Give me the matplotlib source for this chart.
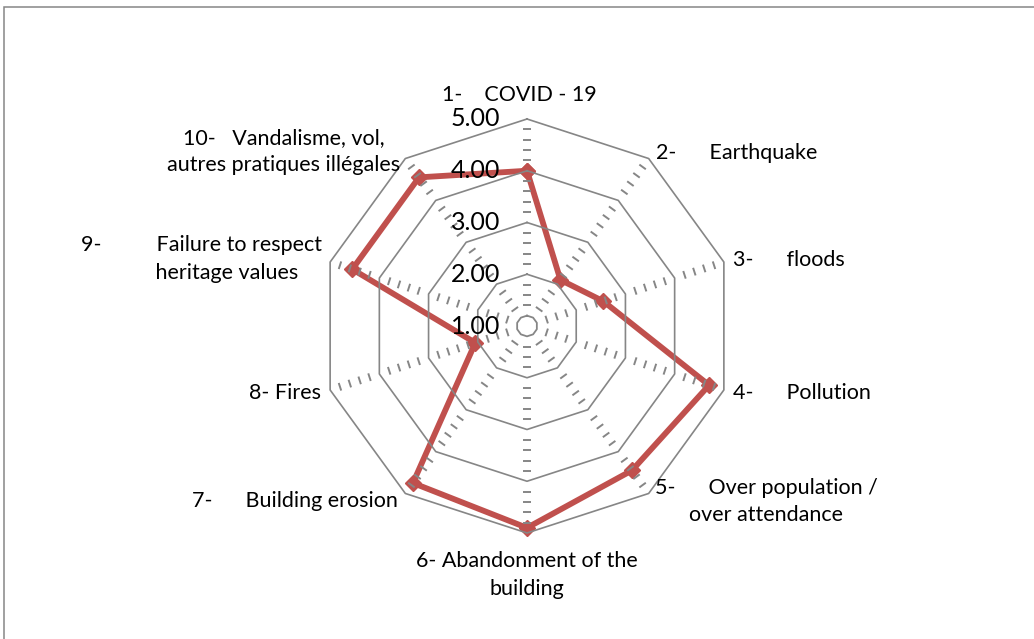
import numpy as np
import matplotlib.pyplot as plt
from matplotlib.patches import Rectangle

plt.rcParams['font.family'] = ['Lato', 'DejaVu Sans']

# data
categories = [
    "1-    COVID - 19",
    "2-      Earthquake",
    "3-      floods",
    "4-      Pollution",
    "5-      Over population /\nover attendance",
    "6- Abandonment of the\nbuilding",
    "7-      Building erosion",
    "8- Fires",
    "9-          Failure to respect\n         heritage values",
    "10-   Vandalisme, vol,\nautres pratiques illégales",
]
scores = [4.00, 2.10, 2.55, 4.70, 4.45, 4.90, 4.75, 2.05, 4.55, 4.55]
tick_values = [1, 2, 3, 4, 5]
tick_labels = ["1.00", "2.00", "3.00", "4.00", "5.00"]
minor_step = 0.2

# label placement relative to the outer vertex, in pixels (x right, y down)
label_layout = [
    (-8, -24, 'center'),
    (7, -6, 'left'),
    (9, -2, 'left'),
    (9, 3, 'left'),
    (6, 8, 'left'),
    (0, 42, 'center'),
    (-7, 8, 'right'),
    (-9, 3, 'right'),
    (-8, -3, 'right'),
    (-5, -7, 'right'),
]

GRID = '#868686'
RED = '#C0504D'
W, H = 1034, 639
cx, cy, R = 527, 326, 207

fig = plt.figure(figsize=(W / 100, H / 100), dpi=100)
fig.patches.append(Rectangle((4 / W, -0.1), 1.2, 1 - 7 / H + 0.1, transform=fig.transFigure,
                             fill=False, edgecolor=GRID, lw=1.1))

ax = fig.add_axes([(cx - R) / W, (H - cy - R) / H, 2 * R / W, 2 * R / H], projection='polar')
ax.set_theta_zero_location('N')
ax.set_theta_direction(-1)
ax.set_ylim(tick_values[0], tick_values[-1])
ax.set_xticks([])
ax.set_yticks([])
ax.grid(False)
ax.spines['polar'].set_visible(False)
ax.patch.set_alpha(0)

n = len(categories)
theta = np.linspace(0, 2 * np.pi, n, endpoint=False)
closed = np.append(theta, theta[0])

# series
ax.plot(closed, scores + scores[:1], color=RED, lw=4.2, marker='D', ms=8.5,
        mew=1, mec=RED, zorder=2, clip_on=False)

# major rings
for v in tick_values[1:]:
    ax.plot(closed, [v] * (n + 1), color=GRID, lw=1.2, zorder=3, clip_on=False)

# minor rings: Excel shows them as short strokes across each spoke
trans = ax.transData
inv = trans.inverted()
centre = trans.transform((0, tick_values[0]))
half = 4.0  # pixels
for v in np.arange(tick_values[0] + minor_step, tick_values[-1], minor_step):
    if abs(v - round(v)) < 1e-6:
        continue
    p0 = trans.transform((theta[0], v))
    p1 = trans.transform((theta[1], v))
    if np.hypot(*(p1 - p0)) < 10:
        ax.plot(closed, [v] * (n + 1), color=GRID, lw=1.3, zorder=3)
        continue
    for t in theta:
        p = trans.transform((t, v))
        u = (p - centre) / np.hypot(*(p - centre))
        perp = np.array([-u[1], u[0]]) * half
        a, b = inv.transform(p + perp), inv.transform(p - perp)
        ax.plot([a[0], b[0]], [a[1], b[1]], color=GRID, lw=1.4, zorder=3,
                solid_capstyle='butt')

# value labels along the first spoke
for v, lbl in zip(tick_values, tick_labels):
    ax.annotate(lbl, xy=(0, v), xytext=(-27, 0), textcoords='offset pixels',
                ha='right', va='center', fontsize=18, zorder=4)

# category labels
for t, name, (dx, dy, ha) in zip(theta, categories, label_layout):
    ax.annotate(name, xy=(t, tick_values[-1]), xytext=(dx, -dy), textcoords='offset pixels',
                ha=ha, va='center', multialignment='center', fontsize=15.5,
                linespacing=1.45, annotation_clip=False)

fig.savefig('out.png', dpi=100, facecolor='white')
